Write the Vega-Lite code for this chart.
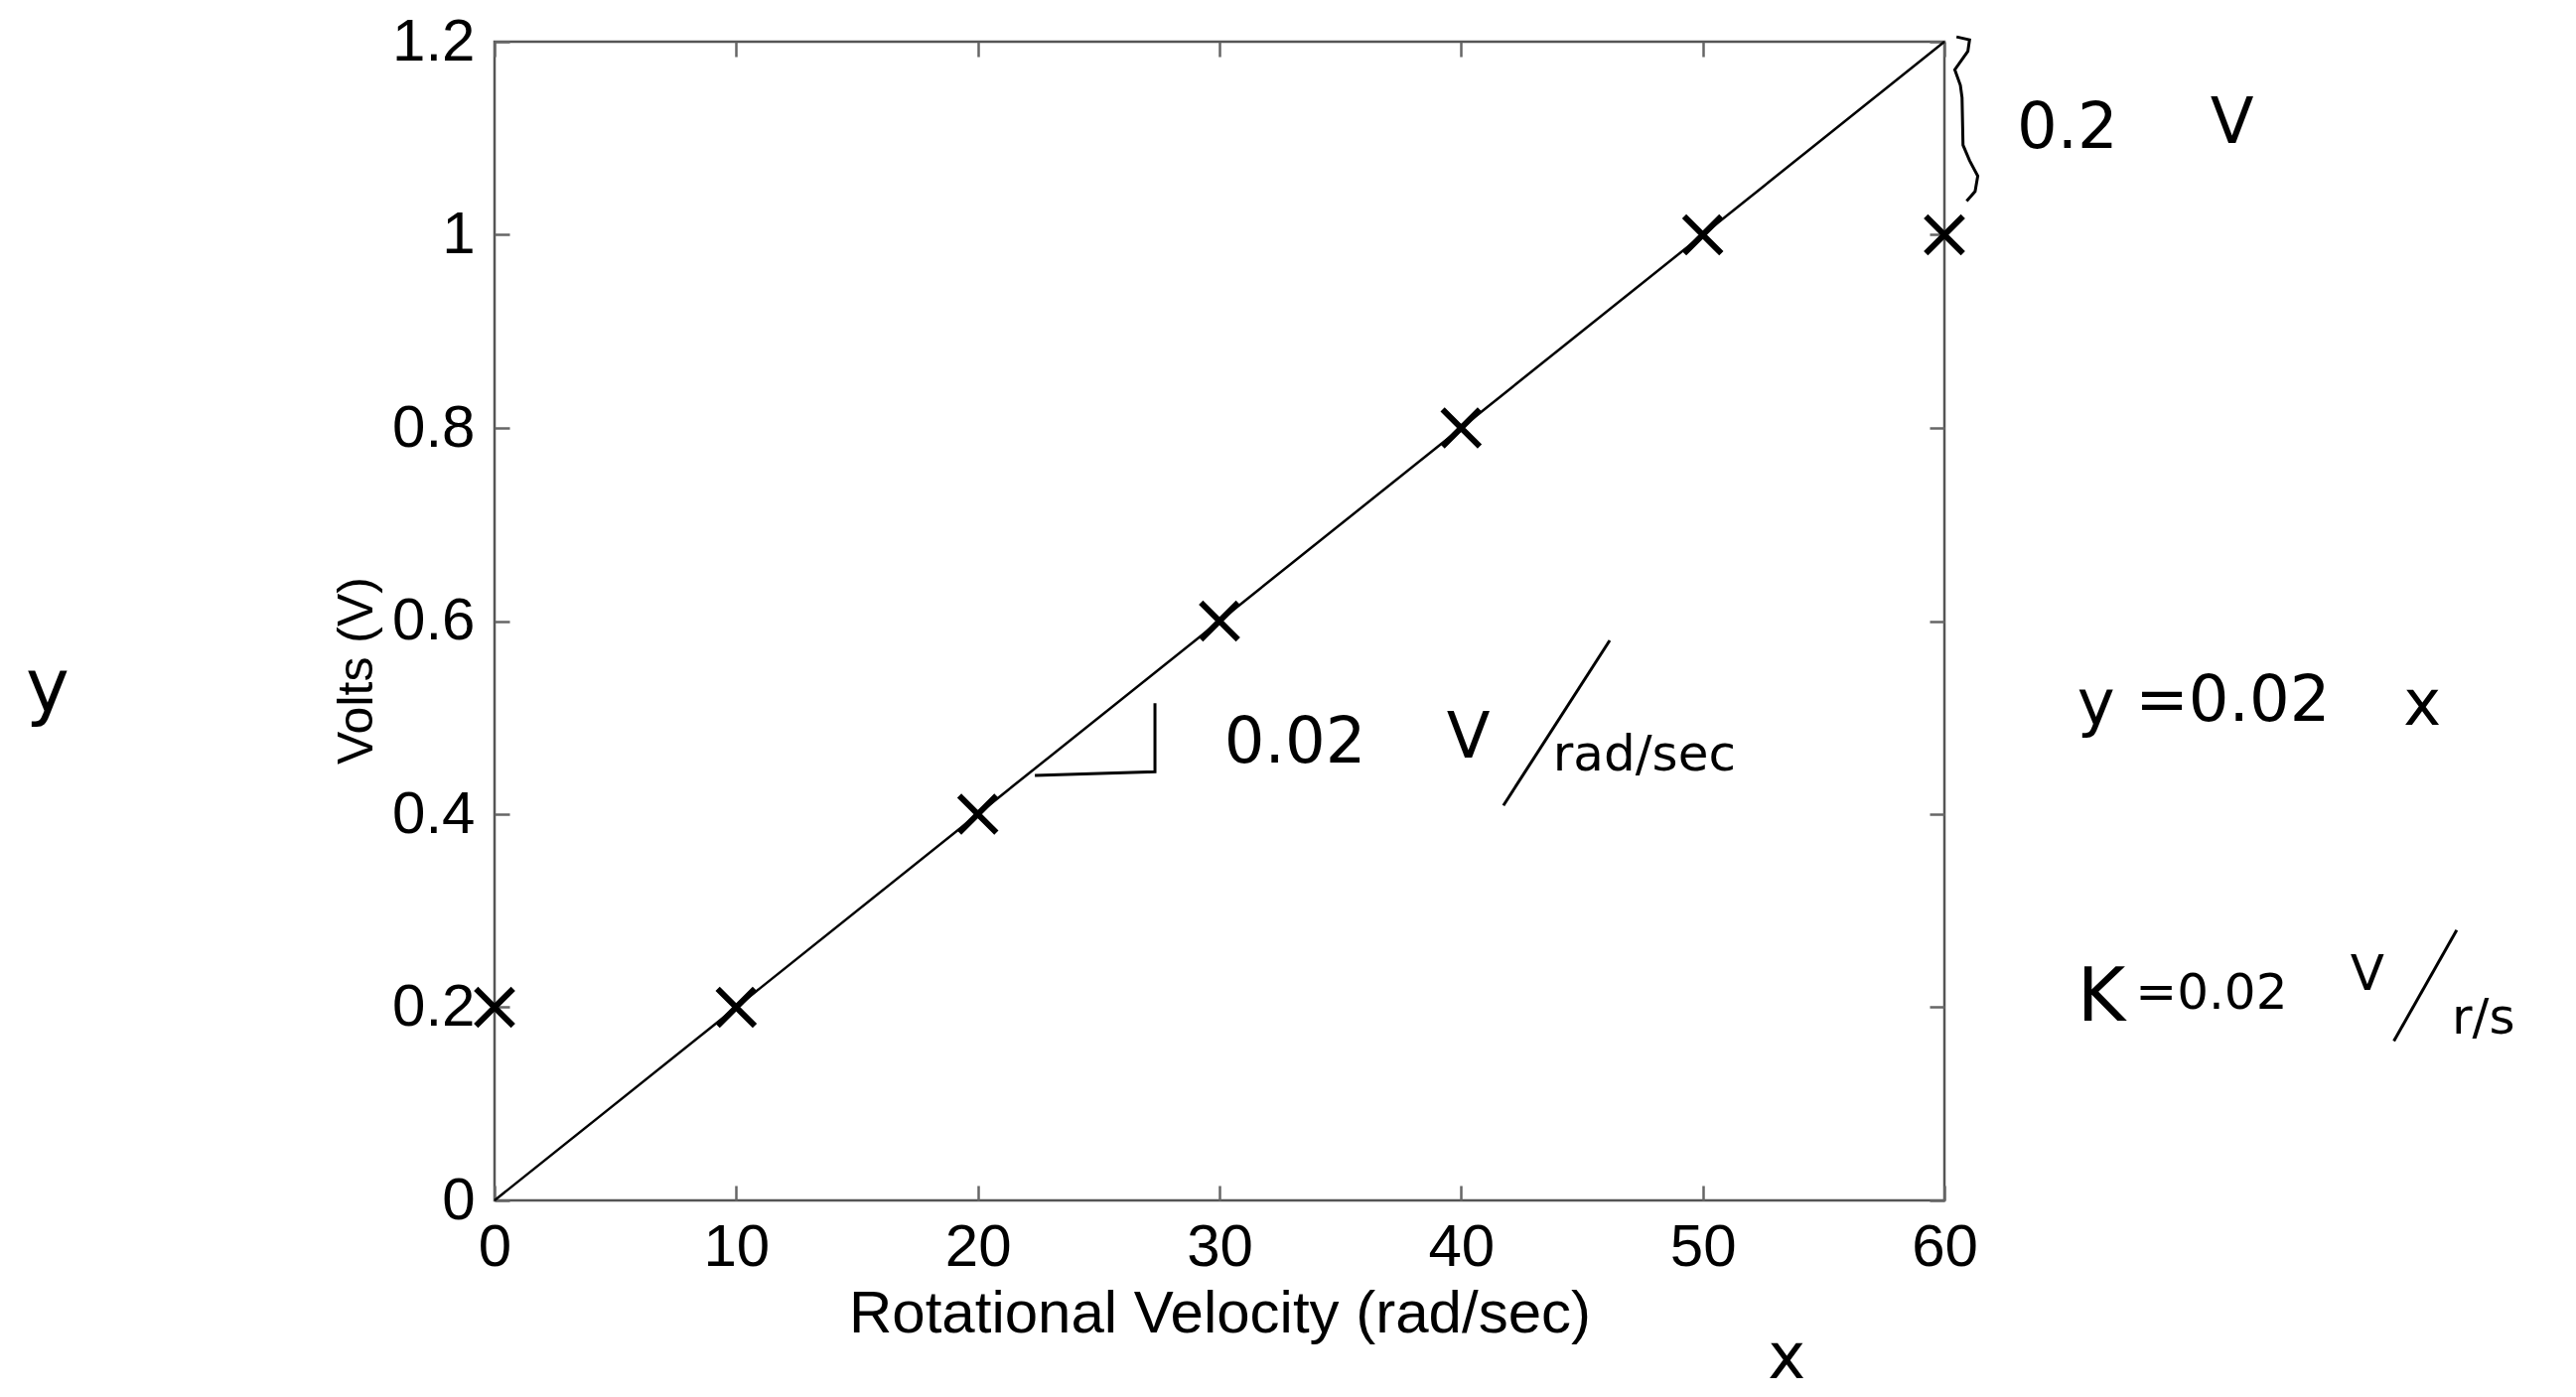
{
  "$schema": "https://vega.github.io/schema/vega-lite/v6.json",
  "autosize": {"type": "none"},
  "padding": {"left": 498, "top": 42, "right": 636, "bottom": 198},
  "width": 1460,
  "height": 1167,
  "background": "white",
  "config": {
    "view": {"stroke": "#555555", "strokeWidth": 2.5},
    "axis": {
      "domain": false,
      "grid": false,
      "labelFont": "Liberation Sans",
      "labelFontSize": 60,
      "labelColor": "black",
      "labelFlush": false,
      "titleFont": "Liberation Sans",
      "titleFontSize": 60,
      "titleFontWeight": "normal",
      "titleColor": "black",
      "tickColor": "#666666",
      "tickWidth": 2.5,
      "tickSize": -15
    }
  },
  "datasets": {
    "measured": [
      {"velocity": 0, "volts": 0.2},
      {"velocity": 10, "volts": 0.2},
      {"velocity": 20, "volts": 0.4},
      {"velocity": 30, "volts": 0.6},
      {"velocity": 40, "volts": 0.8},
      {"velocity": 50, "volts": 1.0},
      {"velocity": 60, "volts": 1.0}
    ],
    "fit": [
      {"velocity": 0, "volts": 0},
      {"velocity": 60, "volts": 1.2}
    ],
    "bigNotes": [
      {"x": 63.0, "y": 1.11, "label": "0.2"},
      {"x": 71.0, "y": 1.115, "label": "V"},
      {"x": 30.2, "y": 0.473, "label": "0.02"},
      {"x": 39.4, "y": 0.478, "label": "V"},
      {"x": 65.5, "y": 0.512, "label": "y"},
      {"x": 67.9, "y": 0.516, "label": "=0.02"},
      {"x": 79.0, "y": 0.512, "label": "x"},
      {"x": 52.7, "y": -0.165, "label": "x"}
    ],
    "kNote": [
      {"x": 65.5, "y": 0.209, "label": "K"},
      {"x": -19.4, "y": 0.53, "label": "y"}
    ],
    "smallNotes": [
      {"x": 43.8, "y": 0.461, "label": "rad/sec"},
      {"x": 67.9, "y": 0.214, "label": "=0.02"},
      {"x": 76.8, "y": 0.233, "label": "V"},
      {"x": 81.0, "y": 0.188, "label": "r/s"}
    ],
    "strokes": [
      {"stroke": "triangle", "order": 1, "x": 22.36, "y": 0.440},
      {"stroke": "triangle", "order": 2, "x": 27.33, "y": 0.444},
      {"stroke": "triangle", "order": 3, "x": 27.33, "y": 0.515},
      {"stroke": "slash1", "order": 1, "x": 41.75, "y": 0.409},
      {"stroke": "slash1", "order": 2, "x": 46.15, "y": 0.580},
      {"stroke": "slash2", "order": 1, "x": 78.6, "y": 0.165},
      {"stroke": "slash2", "order": 2, "x": 81.2, "y": 0.28},
      {"stroke": "brace", "order": 1, "x": 60.5, "y": 1.205},
      {"stroke": "brace", "order": 2, "x": 61.04, "y": 1.202},
      {"stroke": "brace", "order": 3, "x": 60.97, "y": 1.19},
      {"stroke": "brace", "order": 4, "x": 60.43, "y": 1.171},
      {"stroke": "brace", "order": 5, "x": 60.66, "y": 1.155},
      {"stroke": "brace", "order": 6, "x": 60.73, "y": 1.142},
      {"stroke": "brace", "order": 7, "x": 60.77, "y": 1.093},
      {"stroke": "brace", "order": 8, "x": 61.04, "y": 1.077},
      {"stroke": "brace", "order": 9, "x": 61.38, "y": 1.061},
      {"stroke": "brace", "order": 10, "x": 61.27, "y": 1.045},
      {"stroke": "brace", "order": 11, "x": 60.92, "y": 1.035}
    ]
  },
  "resolve": {"axis": {"x": "independent", "y": "independent"}},
  "layer": [
    {
      "data": {"name": "fit"},
      "mark": {"type": "line", "color": "black", "strokeWidth": 2.5},
      "encoding": {
        "x": {"field": "velocity", "type": "quantitative", "scale": {"domain": [0, 60], "nice": false},
              "axis": {"orient": "top", "labels": false, "title": null, "values": [0, 10, 20, 30, 40, 50, 60]}},
        "y": {"field": "volts", "type": "quantitative", "scale": {"domain": [0, 1.2], "nice": false},
              "axis": {"orient": "right", "labels": false, "title": null, "values": [0, 0.2, 0.4, 0.6, 0.8, 1, 1.2]}}
      }
    },
    {
      "data": {"name": "measured"},
      "mark": {"type": "point", "shape": "M-1,-1L1,1M-1,1L1,-1", "filled": false, "stroke": "black", "strokeWidth": 6, "size": 1400, "opacity": 1},
      "encoding": {
        "x": {"field": "velocity", "type": "quantitative", "scale": {"domain": [0, 60], "nice": false},
              "axis": {"orient": "bottom", "title": "Rotational Velocity (rad/sec)", "values": [0, 10, 20, 30, 40, 50, 60], "labelPadding": 33, "titlePadding": 8}},
        "y": {"field": "volts", "type": "quantitative", "scale": {"domain": [0, 1.2], "nice": false},
              "axis": {"orient": "left", "title": "Volts (V)", "titleFontSize": 50, "titleY": 633, "values": [0, 0.2, 0.4, 0.6, 0.8, 1, 1.2], "format": "~g", "labelPadding": 35, "titlePadding": 10}}
      }
    },
    {
      "data": {"name": "strokes"},
      "mark": {"type": "line", "color": "black", "strokeWidth": 3, "clip": false},
      "encoding": {
        "x": {"field": "x", "type": "quantitative", "scale": {"domain": [0, 60], "nice": false}, "axis": null},
        "y": {"field": "y", "type": "quantitative", "scale": {"domain": [0, 1.2], "nice": false}, "axis": null},
        "detail": {"field": "stroke"},
        "order": {"field": "order"}
      }
    },
    {
      "data": {"name": "bigNotes"},
      "mark": {"type": "text", "font": "DejaVu Sans", "fontSize": 64, "align": "left", "baseline": "middle", "color": "black"},
      "encoding": {
        "x": {"field": "x", "type": "quantitative", "scale": {"domain": [0, 60], "nice": false}, "axis": null},
        "y": {"field": "y", "type": "quantitative", "scale": {"domain": [0, 1.2], "nice": false}, "axis": null},
        "text": {"field": "label"}
      }
    },
    {
      "data": {"name": "kNote"},
      "mark": {"type": "text", "font": "DejaVu Sans", "fontSize": 74, "align": "left", "baseline": "middle", "color": "black"},
      "encoding": {
        "x": {"field": "x", "type": "quantitative", "scale": {"domain": [0, 60], "nice": false}, "axis": null},
        "y": {"field": "y", "type": "quantitative", "scale": {"domain": [0, 1.2], "nice": false}, "axis": null},
        "text": {"field": "label"}
      }
    },
    {
      "data": {"name": "smallNotes"},
      "mark": {"type": "text", "font": "DejaVu Sans", "fontSize": 50, "align": "left", "baseline": "middle", "color": "black"},
      "encoding": {
        "x": {"field": "x", "type": "quantitative", "scale": {"domain": [0, 60], "nice": false}, "axis": null},
        "y": {"field": "y", "type": "quantitative", "scale": {"domain": [0, 1.2], "nice": false}, "axis": null},
        "text": {"field": "label"}
      }
    }
  ]
}
